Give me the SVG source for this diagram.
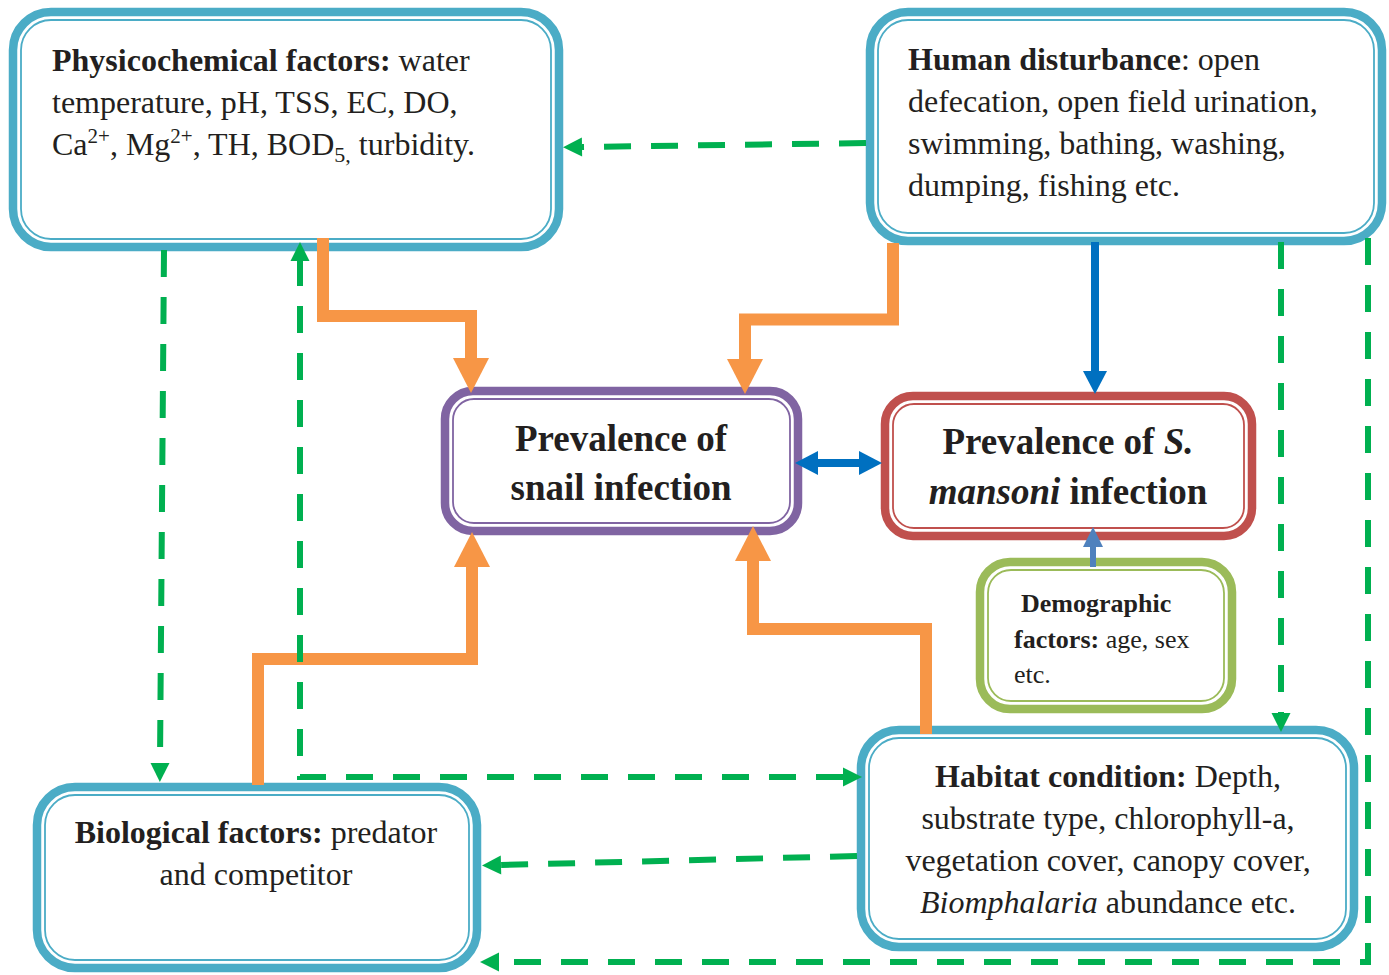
<svg xmlns="http://www.w3.org/2000/svg" width="1389" height="975" viewBox="0 0 1389 975">
<defs>
<style>
.txt{font-family:"Liberation Serif","Times New Roman",serif;fill:#231f20;}
.body{font-size:32px;}
.title{font-size:37px;font-weight:bold;}
.demo{font-size:26px;}
.b{font-weight:bold;}
.i{font-style:italic;}
.band{fill:white;stroke-width:8.5;}
.thin{fill:none;stroke-width:1.8;}
.blueB{stroke:#4BACC6;}
.purB{stroke:#8064A2;}
.redB{stroke:#C0504D;}
.grnB{stroke:#9BBB59;}
.orange{fill:none;stroke:#F79646;stroke-width:12;stroke-linejoin:miter;}
.dash{fill:none;stroke:#00B050;stroke-width:6;stroke-dasharray:27 20;}
.blue{fill:none;stroke:#0070C0;stroke-width:8;}
.lblue{fill:none;stroke:#4F81BD;stroke-width:6;}
</style>
<marker id="hO" markerUnits="userSpaceOnUse" markerWidth="36" markerHeight="36" refX="0" refY="18" orient="auto" overflow="visible"><path d="M0,0 L35,18 L0,36 z" fill="#F79646"/></marker>
<marker id="hB" markerUnits="userSpaceOnUse" markerWidth="24" markerHeight="24" refX="0" refY="12" orient="auto-start-reverse" overflow="visible"><path d="M0,0 L23,12 L0,24 z" fill="#0070C0"/></marker>
<marker id="hL" markerUnits="userSpaceOnUse" markerWidth="20" markerHeight="20" refX="0" refY="10" orient="auto" overflow="visible"><path d="M0,0 L20,10 L0,20 z" fill="#4F81BD"/></marker>
<marker id="hG" markerUnits="userSpaceOnUse" markerWidth="19" markerHeight="19" refX="0" refY="9.5" orient="auto-start-reverse" overflow="visible"><path d="M0,0 L19,9.5 L0,19 z" fill="#00B050"/></marker>
</defs>
<rect width="1389" height="975" fill="white"/>

<g id="physicochemical">
<rect class="band blueB" x="13" y="12" width="546" height="235" rx="38"/>
<rect class="thin blueB" x="21" y="20" width="530" height="219" rx="30"/>
<text class="txt body" x="52" y="71"><tspan class="b">Physicochemical factors:</tspan> water</text>
<text class="txt body" x="52" y="113">temperature, pH, TSS, EC, DO,</text>
<text class="txt body" x="52" y="155">Ca<tspan dy="-12" font-size="21">2+</tspan><tspan dy="12">, Mg</tspan><tspan dy="-12" font-size="21">2+</tspan><tspan dy="12">, TH, BOD</tspan><tspan dy="7" font-size="22">5,</tspan><tspan dy="-7"> turbidity.</tspan></text>
</g>

<g id="human">
<rect class="band blueB" x="870" y="12" width="512" height="229" rx="38"/>
<rect class="thin blueB" x="878" y="20" width="496" height="213" rx="30"/>
<text class="txt body" x="908" y="70"><tspan class="b">Human disturbance</tspan>: open</text>
<text class="txt body" x="908" y="112">defecation, open field urination,</text>
<text class="txt body" x="908" y="154">swimming, bathing, washing,</text>
<text class="txt body" x="908" y="196">dumping, fishing etc.</text>
</g>

<g id="snail">
<rect class="band purB" x="445" y="391" width="353" height="140" rx="28"/>
<rect class="thin purB" x="453" y="399" width="337" height="124" rx="21"/>
<text class="txt title" x="621" y="451" text-anchor="middle">Prevalence of</text>
<text class="txt title" x="621" y="500" text-anchor="middle">snail infection</text>
</g>

<g id="mansoni">
<rect class="band redB" x="885" y="396" width="367" height="140" rx="28"/>
<rect class="thin redB" x="893" y="404" width="351" height="124" rx="21"/>
<text class="txt title" x="1068" y="454" text-anchor="middle">Prevalence of <tspan class="i">S.</tspan></text>
<text class="txt title" x="1068" y="504" text-anchor="middle"><tspan class="i">mansoni</tspan> infection</text>
</g>

<g id="demographic">
<rect class="band grnB" x="980" y="562" width="252" height="147" rx="30"/>
<rect class="thin grnB" x="988" y="570" width="236" height="131" rx="23"/>
<text class="txt demo b" x="1021" y="612">Demographic</text>
<text class="txt demo" x="1014" y="648"><tspan class="b">factors:</tspan> age, sex</text>
<text class="txt demo" x="1014" y="683">etc.</text>
</g>

<g id="biological">
<rect class="band blueB" x="37" y="787" width="440" height="181" rx="38"/>
<rect class="thin blueB" x="45" y="795" width="424" height="165" rx="30"/>
<text class="txt body" x="256" y="843" text-anchor="middle"><tspan class="b">Biological factors:</tspan> predator</text>
<text class="txt body" x="256" y="885" text-anchor="middle">and competitor</text>
</g>

<g id="habitat">
<rect class="band blueB" x="861" y="730" width="493" height="217" rx="38"/>
<rect class="thin blueB" x="869" y="738" width="477" height="201" rx="30"/>
<text class="txt body" x="1108" y="787" text-anchor="middle"><tspan class="b">Habitat condition:</tspan> Depth,</text>
<text class="txt body" x="1108" y="829" text-anchor="middle">substrate type, chlorophyll-a,</text>
<text class="txt body" x="1108" y="871" text-anchor="middle">vegetation cover, canopy cover,</text>
<text class="txt body" x="1108" y="913" text-anchor="middle"><tspan class="i">Biomphalaria</tspan> abundance etc.</text>
</g>

<g id="connectors">
<path class="orange" d="M323,238 V316 H471 V358" marker-end="url(#hO)"/>
<path class="orange" d="M893,243 V319.5 H745 V359" marker-end="url(#hO)"/>
<path class="orange" d="M258,785 V659 H472 V567" marker-end="url(#hO)"/>
<path class="orange" d="M926,734 V629 H753 V561" marker-end="url(#hO)"/>
<path class="blue" d="M1095,242 V371" marker-end="url(#hB)"/>
<path class="blue" d="M818,463 H859" marker-start="url(#hB)" marker-end="url(#hB)"/>
<path class="lblue" d="M1093,567 V547" marker-end="url(#hL)"/>
<path class="dash" d="M866,143 L582,147" marker-end="url(#hG)"/>
<path class="dash" d="M164,250 L160,763" marker-end="url(#hG)"/>
<path class="dash" d="M843,777 H300 V261" marker-start="url(#hG)" marker-end="url(#hG)"/>
<path class="dash" d="M1281,242 V713" marker-end="url(#hG)"/>
<path class="dash" d="M1368,238 V962 H499" marker-end="url(#hG)"/>
<path class="dash" d="M857,856 L501,865" marker-end="url(#hG)"/>
</g>
</svg>
